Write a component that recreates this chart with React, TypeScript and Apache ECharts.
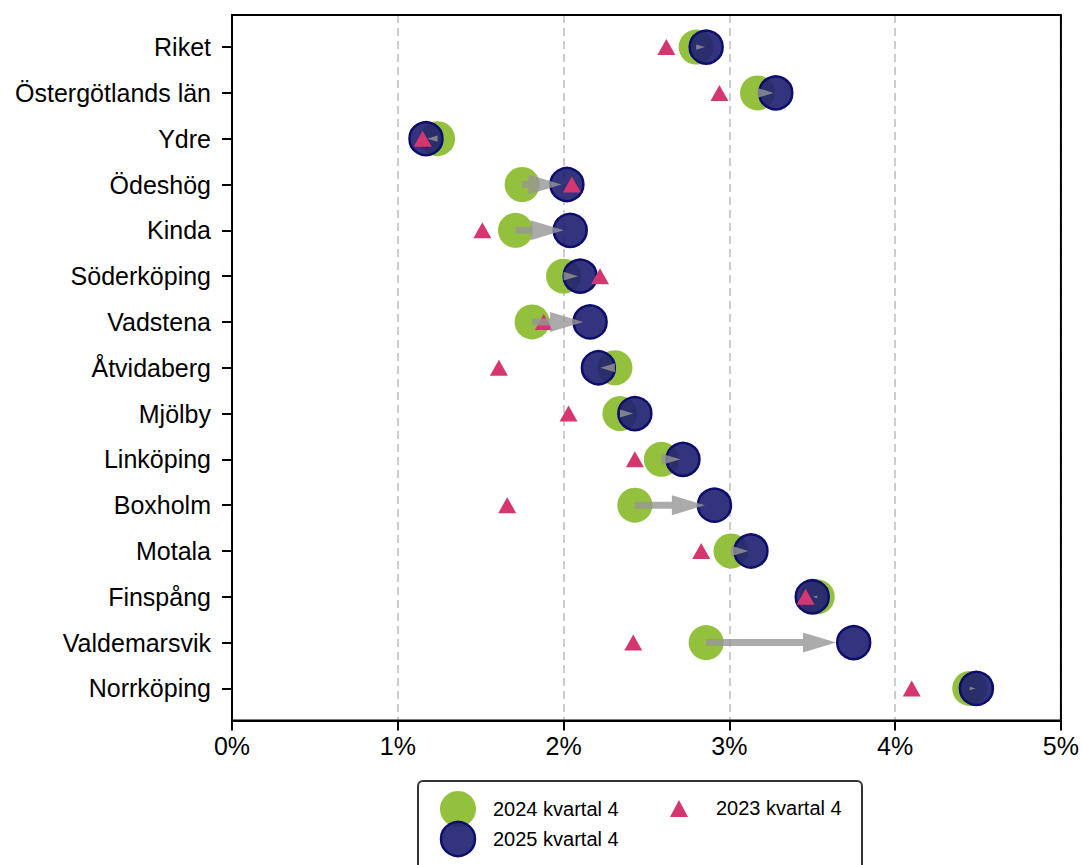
import React, { useEffect, useRef } from "react";
import * as echarts from "echarts";

const categories: string[] = [
  "Riket",
  "Östergötlands län",
  "Ydre",
  "Ödeshög",
  "Kinda",
  "Söderköping",
  "Vadstena",
  "Åtvidaberg",
  "Mjölby",
  "Linköping",
  "Boxholm",
  "Motala",
  "Finspång",
  "Valdemarsvik",
  "Norrköping",
];

const values2024: number[] = [2.8, 3.17, 1.24, 1.75, 1.71, 2.0, 1.81, 2.31, 2.34, 2.59, 2.43, 3.01, 3.53, 2.86, 4.45];
const values2025: number[] = [2.86, 3.28, 1.17, 2.02, 2.04, 2.1, 2.16, 2.21, 2.43, 2.72, 2.91, 3.13, 3.5, 3.75, 4.49];
const values2023: number[] = [2.62, 2.94, 1.15, 2.05, 1.51, 2.22, 1.88, 1.61, 2.03, 2.43, 1.66, 2.83, 3.46, 2.42, 4.1];

const xTicks: number[] = [0, 1, 2, 3, 4, 5];
const legendNames = ["2024 kvartal 4", "2025 kvartal 4", "2023 kvartal 4"];

const GREEN = "#94c13d";
const NAVY_FILL = "rgba(30,30,112,0.9)";
const NAVY_EDGE = "#0d0d6b";
const PINK = "#d6366f";
const FONT = "'Liberation Sans', Arial, Helvetica, sans-serif";

export default function App() {
  const ref = useRef<HTMLDivElement>(null);

  useEffect(() => {
    document.body.style.margin = "0";
    if (!ref.current) return;
    const chart = echarts.init(ref.current, undefined, { renderer: "svg" });

    const idx = categories.map((_, i) => i);

    const option: any = {
      animation: false,
      backgroundColor: "#ffffff",
      textStyle: { fontFamily: FONT },
      grid: {
        left: 232,
        right: 19,
        top: 15,
        bottom: 144.5,
        show: true,
        borderColor: "#000",
        borderWidth: 2,
        backgroundColor: "transparent",
        z: 10,
      },
      xAxis: {
        type: "value",
        min: xTicks[0],
        max: xTicks[xTicks.length - 1],
        interval: 1,
        axisLine: { show: true, onZero: false, lineStyle: { color: "#000", width: 2 } },
        axisTick: { show: true, length: 10, lineStyle: { color: "#000", width: 2 } },
        axisLabel: {
          color: "#000",
          fontSize: 25,
          fontFamily: FONT,
          margin: 13,
          formatter: (v: number) => `${v}%`,
        },
        splitLine: {
          show: true,
          lineStyle: { color: "#cccccc", width: 2, type: [8, 5] },
        },
      },
      yAxis: {
        type: "value",
        inverse: true,
        min: -0.7,
        max: 14.7,
        axisLine: { show: true, onZero: false, lineStyle: { color: "#000", width: 2 } },
        axisTick: {
          show: true,
          length: 10,
          customValues: idx,
          lineStyle: { color: "#000", width: 2 },
        },
        axisLabel: {
          show: true,
          customValues: idx,
          color: "#000",
          fontSize: 25,
          fontFamily: FONT,
          margin: 21,
          formatter: (v: number) => categories[Math.round(v)] ?? "",
        },
        splitLine: { show: false },
      },
      series: [
        {
          name: legendNames[0],
          type: "scatter",
          symbol: "circle",
          symbolSize: 35,
          z: 2,
          itemStyle: { color: GREEN, opacity: 1 },
          data: values2024.map((v, i) => [v, i]),
        },
        {
          name: legendNames[1],
          type: "scatter",
          symbol: "circle",
          symbolSize: 33,
          z: 3,
          itemStyle: { color: NAVY_FILL, borderColor: NAVY_EDGE, borderWidth: 2.5, opacity: 1 },
          data: values2025.map((v, i) => [v, i]),
        },
        {
          name: legendNames[2],
          type: "scatter",
          symbol: "triangle",
          symbolSize: [18, 16],
          z: 4,
          itemStyle: { color: PINK, opacity: 1 },
          data: values2023.map((v, i) => [v, i]),
        },
        {
          name: "arrows",
          type: "custom",
          z: 5,
          silent: true,
          data: values2024.map((v, i) => [v, values2025[i], i]),
          renderItem: (params: any, api: any) => {
            const a = api.coord([api.value(0), api.value(2)]);
            const b = api.coord([api.value(1), api.value(2)]);
            const y = a[1];
            const full = b[0] - a[0];
            const L = full * 0.88;
            const dir = L >= 0 ? 1 : -1;
            const absL = Math.abs(L);
            if (absL < 0.5) return null;
            const HL = 33;
            const headLen = Math.min(HL, absL);
            const hw = 10 * (headLen / HL);
            const sw = 3.5;
            const x0 = a[0];
            const xt = x0 + dir * absL;
            const xb = xt - dir * headLen;
            let points: number[][];
            if (absL > HL) {
              points = [
                [x0, y - sw],
                [xb, y - sw],
                [xb, y - hw],
                [xt, y],
                [xb, y + hw],
                [xb, y + sw],
                [x0, y + sw],
              ];
            } else {
              points = [
                [x0, y - hw],
                [xt, y],
                [x0, y + hw],
              ];
            }
            return {
              type: "polygon",
              shape: { points },
              style: { fill: "rgba(150,150,150,0.8)", stroke: "none" },
            };
          },
        },
      ],
      graphic: [
        {
          type: "rect",
          shape: { x: 418, y: 781, width: 444, height: 130, r: 5 },
          style: { fill: "#fff", stroke: "#333", lineWidth: 2 },
          z: 20,
        },
        {
          type: "circle",
          shape: { cx: 458, cy: 809, r: 18 },
          style: { fill: GREEN },
          z: 21,
        },
        {
          type: "circle",
          shape: { cx: 458, cy: 839, r: 17 },
          style: { fill: NAVY_FILL, stroke: NAVY_EDGE, lineWidth: 2.5 },
          z: 22,
        },
        {
          type: "polygon",
          shape: { points: [[670, 817], [679, 800], [688, 817]] },
          style: { fill: PINK },
          z: 21,
        },
        {
          type: "text",
          x: 493,
          y: 809,
          style: { text: legendNames[0], fontSize: 20, fontFamily: FONT, fill: "#000", verticalAlign: "middle", align: "left" },
          z: 23,
        },
        {
          type: "text",
          x: 493,
          y: 839,
          style: { text: legendNames[1], fontSize: 20, fontFamily: FONT, fill: "#000", verticalAlign: "middle", align: "left" },
          z: 23,
        },
        {
          type: "text",
          x: 716,
          y: 808,
          style: { text: legendNames[2], fontSize: 20, fontFamily: FONT, fill: "#000", verticalAlign: "middle", align: "left" },
          z: 23,
        },
      ],
    };

    chart.setOption(option);
    return () => {
      chart.dispose();
    };
  }, []);

  return <div ref={ref} style={{ width: 1082, height: 865, overflow: "hidden" }} />;
}
